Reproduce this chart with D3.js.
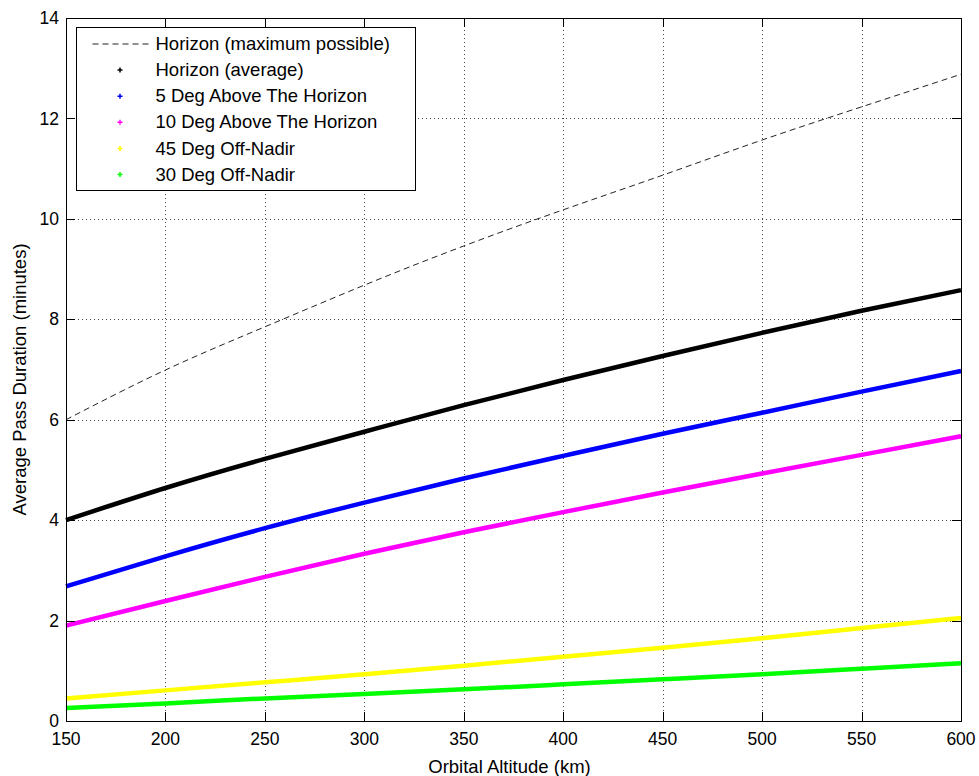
<!DOCTYPE html>
<meta charset="utf-8">
<style>
  body { margin: 0; background: #fff; }
  text { font-family: "Liberation Sans", Arial, sans-serif; fill: #000; }
</style>
<body>
<script src="https://cdn.jsdelivr.net/npm/d3@7"></script>
<div id="chart"></div>
<script>

// altitude samples (km)
var altitudes = [150, 200, 250, 300, 350, 400, 450, 500, 550, 600];

// average pass duration (minutes) for each curve
var horizonMax = [6.0, 6.99, 7.85, 8.68, 9.46, 10.18, 10.87, 11.57, 12.23, 12.88];
var horizonAvg = [4.0, 4.64, 5.22, 5.76, 6.29, 6.79, 7.27, 7.73, 8.17, 8.58];
var deg5Above = [2.68, 3.28, 3.84, 4.35, 4.83, 5.28, 5.72, 6.14, 6.56, 6.97];
var deg10Above = [1.9, 2.39, 2.87, 3.33, 3.76, 4.16, 4.55, 4.93, 5.30, 5.67];
var offNadir45 = [0.45, 0.61, 0.77, 0.93, 1.1, 1.28, 1.46, 1.65, 1.85, 2.05];
var offNadir30 = [0.26, 0.35, 0.45, 0.54, 0.63, 0.73, 0.83, 0.93, 1.04, 1.15];

var seriesLabels = ["Horizon (maximum possible)", "Horizon (average)", "5 Deg Above The Horizon",
                    "10 Deg Above The Horizon", "45 Deg Off-Nadir", "30 Deg Off-Nadir"];
var seriesColors = ["#000000", "#000000", "#0000ff", "#ff00ff", "#ffff00", "#00ff00"];
var seriesValues = [horizonMax, horizonAvg, deg5Above, deg10Above, offNadir45, offNadir30];

var xTicks = [150, 200, 250, 300, 350, 400, 450, 500, 550, 600];
var yTicks = [0, 2, 4, 6, 8, 10, 12, 14];

// dimensions
var margin = {top: 18, right: 18, bottom: 55, left: 66},
    width = 979 - margin.left - margin.right,
    height = 776 - margin.top - margin.bottom;

var x = d3.scaleLinear().domain([150, 600]).range([0, width]);
var y = d3.scaleLinear().domain([0, 14]).range([height, 0]);

var svg = d3.select("#chart")
  .append("svg")
    .attr("width", 979)
    .attr("height", 776)
  .append("g")
    .attr("transform", "translate(" + margin.left + "," + margin.top + ")");

// dotted grid
svg.append("g")
  .selectAll("line")
  .data(xTicks.slice(1, -1))
  .enter().append("line")
    .attr("x1", function(d){ return Math.round(x(d)) + 0.5; })
    .attr("x2", function(d){ return Math.round(x(d)) + 0.5; })
    .attr("y1", 0)
    .attr("y2", height)
    .style("stroke", "#444")
    .style("stroke-dasharray", "1,3");

svg.append("g")
  .selectAll("line")
  .data(yTicks.slice(1, -1))
  .enter().append("line")
    .attr("y1", function(d){ return Math.round(y(d)) + 0.5; })
    .attr("y2", function(d){ return Math.round(y(d)) + 0.5; })
    .attr("x1", 0)
    .attr("x2", width)
    .style("stroke", "#444")
    .style("stroke-dasharray", "1,3");

// curves
var line = d3.line()
    .x(function(d, i){ return x(altitudes[i]); })
    .y(function(d){ return y(d); })
    .curve(d3.curveNatural);

seriesValues.forEach(function(vals, k){
  var p = svg.append("path")
      .attr("d", line(vals))
      .style("fill", "none")
      .style("stroke", seriesColors[k]);
  if (k == 0) {
    p.style("stroke", "#222").style("stroke-width", 1).style("stroke-dasharray", "6,4");
  } else {
    p.style("stroke-width", 4.5);
  }
});

// axes box with inward ticks on all sides
var tickLen = 9;
svg.append("rect")
    .attr("x", 0.5).attr("y", 0.5)
    .attr("width", width).attr("height", height)
    .style("fill", "none")
    .style("stroke", "#000");

var ticks = svg.append("g").style("stroke", "#000");
xTicks.forEach(function(t){
  var xp = Math.round(x(t)) + 0.5;
  ticks.append("line").attr("x1", xp).attr("x2", xp).attr("y1", height).attr("y2", height - tickLen);
  ticks.append("line").attr("x1", xp).attr("x2", xp).attr("y1", 0).attr("y2", tickLen);
});
yTicks.forEach(function(t){
  var yp = Math.round(y(t)) + 0.5;
  ticks.append("line").attr("y1", yp).attr("y2", yp).attr("x1", 0).attr("x2", tickLen);
  ticks.append("line").attr("y1", yp).attr("y2", yp).attr("x1", width).attr("x2", width - tickLen);
});

// tick labels
svg.append("g")
  .selectAll("text")
  .data(xTicks)
  .enter().append("text")
    .attr("x", function(d){ return x(d); })
    .attr("y", height + 24)
    .attr("text-anchor", "middle")
    .style("font-size", "17.5px")
    .text(function(d){ return d; });

svg.append("g")
  .selectAll("text")
  .data(yTicks)
  .enter().append("text")
    .attr("x", -7)
    .attr("y", function(d){ return y(d); })
    .attr("dy", "0.35em")
    .attr("text-anchor", "end")
    .style("font-size", "17.5px")
    .text(function(d){ return d; });

// axis titles
svg.append("text")
    .attr("x", width / 2 - 4)
    .attr("y", height + 52)
    .attr("text-anchor", "middle")
    .style("font-size", "18.5px")
    .text("Orbital Altitude (km)");

svg.append("text")
    .attr("transform", "rotate(-90)")
    .attr("x", -(height / 2) - 10)
    .attr("y", -40)
    .attr("text-anchor", "middle")
    .style("font-size", "18.5px")
    .text("Average Pass Duration (minutes)");

// legend
var legX = 76.5 - margin.left, legY = 27.5 - margin.top;
var legend = svg.append("g");
legend.append("rect")
    .attr("x", legX).attr("y", legY)
    .attr("width", 339).attr("height", 163)
    .style("fill", "#fff")
    .style("stroke", "#000");

var rows = legend.selectAll(".legend")
    .data(seriesLabels)
    .enter().append("g")
    .attr("class", "legend")
    .attr("transform", function(d, i){
      return "translate(" + legX + "," + (legY + 16 + i * 26.1) + ")";
    });

rows.each(function(d, i){
  var g = d3.select(this);
  if (i == 0) {
    g.append("line")
      .attr("x1", 16).attr("x2", 76).attr("y1", 0.5).attr("y2", 0.5)
      .style("stroke", "#222")
      .style("stroke-dasharray", "6,4");
  } else {
    g.append("path")
      .attr("d", "M41,0.5h5M43.5,-2v5")
      .style("stroke", seriesColors[i])
      .style("stroke-width", 1.5);
  }
});

rows.append("text")
    .attr("x", 79)
    .attr("dy", "0.36em")
    .style("font-size", "18.5px")
    .text(function(d){ return d; });

</script>
</body>
